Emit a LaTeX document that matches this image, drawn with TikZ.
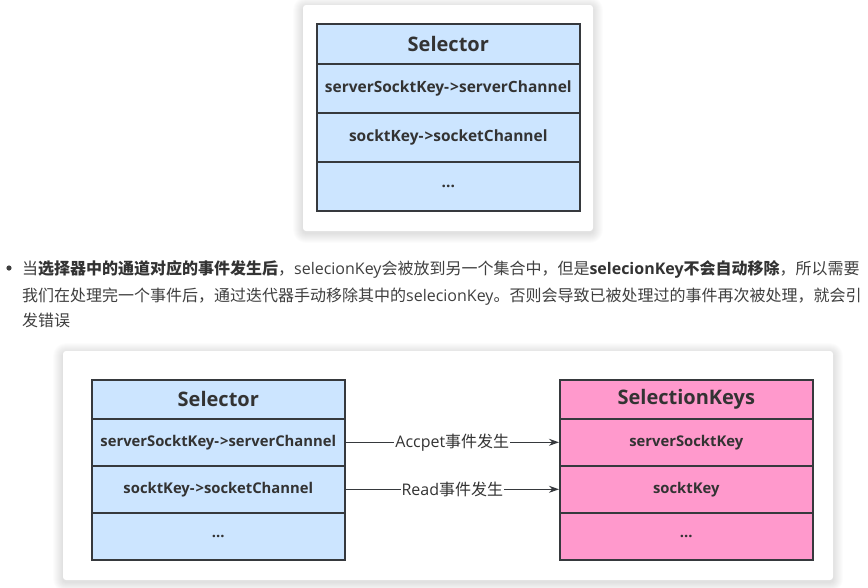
\documentclass[tikz,border=0pt]{standalone}
\usepackage{fontspec}
\setmainfont{Open Sans}
\newfontfamily\cjk{Noto Sans CJK SC}
\usetikzlibrary{arrows.meta}
\definecolor{bluefill}{HTML}{CCE5FF}
\definecolor{pinkfill}{HTML}{FF99CC}
\definecolor{bordercol}{HTML}{36393D}
\definecolor{txt}{HTML}{333333}
\definecolor{ptxt}{HTML}{3F3F3F}
\newcommand{\softcard}[4]{%
  \foreach \r in {1,...,10}{%
    \fill[black, opacity=0.011, rounded corners=3pt+\r pt]
      (#1-\r,#2-\r+2) rectangle (#3+\r,#4+\r+2);
  }%
  \fill[white, rounded corners=3pt] (#1,#2) rectangle (#3,#4);
}
\begin{document}
\begin{tikzpicture}[x=1pt,y=-1pt,
  cell/.style={draw=bordercol, line width=1.6pt, text=txt, inner sep=0pt, anchor=north west, minimum width=253pt},
  headtop/.style={cell, font=\bfseries\fontsize{20}{22}\selectfont, minimum height=40pt},
  rowtop/.style={cell, font=\bfseries\fontsize{15.5}{17}\selectfont, minimum height=49pt},
  headbot/.style={cell, font=\bfseries\fontsize{20}{22}\selectfont, minimum height=39pt},
  rowbot/.style={cell, font=\bfseries\fontsize{14.8}{17}\selectfont, minimum height=47pt},
  para/.style={anchor=base west, inner sep=0pt, text=ptxt, font=\fontsize{16}{18}\selectfont},
  conn/.style={draw=bordercol, line width=1.2pt, -{Stealth[length=10pt,width=7pt]}},
  clabel/.style={fill=white, text=txt, inner sep=1pt, font=\fontsize{16}{18}\selectfont}
]
\useasboundingbox[fill=white] (0,0) rectangle (868,587);

% top card
\softcard{303}{5}{593}{231}
\node[headtop, fill=bluefill, minimum width=263pt] (ts) at (316,23) {Selector};
\node[rowtop, fill=bluefill, minimum width=263pt] (tr1) at (316,63) {serverSocktKey-\kern1pt>serverChannel};
\node[rowtop, fill=bluefill, minimum width=263pt] (tr2) at (316,112) {socktKey-\kern1pt>socketChannel};
\node[rowtop, fill=bluefill, minimum width=263pt] (tr3) at (316,161) {...};

% paragraph
\fill[ptxt] (9,268) circle (2.6);
\node[para] (p1) at (22,274) {{\cjk 当\textbf{\color{txt}选择器中的通道对应的事件发生后}，}selecionKey{\cjk 会被放到另一个集合中，但是}\textbf{\color{txt}selecionKey{\cjk 不会自动移除}}{\cjk ，所以需要}};
\node[para] (p2) at (22,301) {{\cjk 我们在处理完一个事件后，通过迭代器手动移除其中的}selecionKey{\cjk 。否则会导致已被处理过的事件再次被处理，就会引}};
\node[para] (p3) at (22,326) {{\cjk 发错误}};

% bottom card
\softcard{63}{351}{833}{580}
\node[headbot, fill=bluefill] (ls) at (91,379) {Selector};
\node[rowbot, fill=bluefill] (l1) at (91,418) {serverSocktKey-\kern1pt>serverChannel};
\node[rowbot, fill=bluefill] (l2) at (91,465) {socktKey-\kern1pt>socketChannel};
\node[rowbot, fill=bluefill] (l3) at (91,512) {...};

\node[headbot, fill=pinkfill] (rs) at (559,379) {SelectionKeys};
\node[rowbot, fill=pinkfill] (r1) at (559,418) {serverSocktKey};
\node[rowbot, fill=pinkfill] (r2) at (559,465) {socktKey};
\node[rowbot, fill=pinkfill] (r3) at (559,512) {...};

\draw[conn] (l1.east) -- node[clabel] {Accpet{\cjk 事件发生}} (r1.west);
\draw[conn] (l2.east) -- node[clabel] {Read{\cjk 事件发生}} (r2.west);
\end{tikzpicture}
\end{document}
